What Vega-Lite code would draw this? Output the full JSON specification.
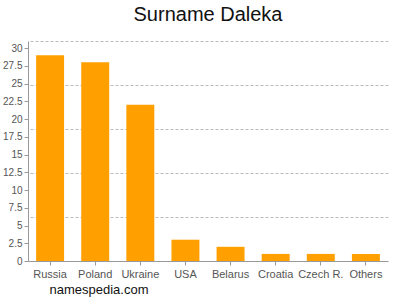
{
  "$schema": "https://vega.github.io/schema/vega-lite/v6.json",
  "width": 360,
  "height": 220,
  "autosize": {"type": "none"},
  "padding": {"left": 28, "top": 41, "right": 12, "bottom": 39},
  "background": "white",
  "title": {
    "text": "Surname Daleka",
    "font": "Liberation Sans",
    "fontSize": 20,
    "fontWeight": "normal",
    "color": "#111111",
    "anchor": "middle",
    "baseline": "alphabetic",
    "offset": 0
  },
  "data": {
    "values": [
      {"country": "Russia", "count": 29},
      {"country": "Poland", "count": 28},
      {"country": "Ukraine", "count": 22},
      {"country": "USA", "count": 3},
      {"country": "Belarus", "count": 2},
      {"country": "Croatia", "count": 1},
      {"country": "Czech R.", "count": 1},
      {"country": "Others", "count": 1}
    ]
  },
  "layer": [
    {
      "mark": {"type": "bar", "color": "#FFA000"},
      "encoding": {
        "x": {
          "field": "country",
          "type": "nominal",
          "sort": null,
          "scale": {"paddingInner": 0.38, "paddingOuter": 0.18},
          "axis": {
            "title": "namespedia.com",
            "titleFont": "Liberation Sans",
            "titleFontSize": 13,
            "titleFontWeight": "normal",
            "titleColor": "#111111",
            "titleAnchor": "start",
            "titleAlign": "left",
            "titleBaseline": "alphabetic",
            "titleX": 21,
            "titleY": 32,
            "labelAngle": 0,
            "labelFont": "Liberation Sans",
            "labelFontSize": 11,
            "labelColor": "#555555",
            "labelPadding": 3,
            "tickSize": 4,
            "tickColor": "#999999",
            "domainColor": "#999999",
            "grid": false
          }
        },
        "y": {
          "field": "count",
          "type": "quantitative",
          "scale": {"domain": [0, 31], "nice": false, "zero": true},
          "axis": {
            "title": null,
            "values": [0, 2.5, 5, 7.5, 10, 12.5, 15, 17.5, 20, 22.5, 25, 27.5, 30],
            "format": ".3~g",
            "labelFont": "Liberation Sans",
            "labelFontSize": 10,
            "labelColor": "#555555",
            "labelPadding": 2,
            "labelOverlap": false,
            "tickSize": 4,
            "tickColor": "#999999",
            "domainColor": "#999999",
            "grid": false
          }
        }
      }
    },
    {
      "mark": {"type": "bar", "opacity": 0},
      "encoding": {
        "x": {"field": "country", "type": "nominal", "sort": null},
        "y": {
          "field": "count",
          "type": "quantitative",
          "axis": {
            "title": null,
            "values": [6.2, 12.4, 18.6, 24.8, 31],
            "labels": false,
            "ticks": false,
            "domain": false,
            "grid": true,
            "gridColor": "#bbbbbb",
            "gridDash": [3, 2],
            "gridWidth": 1
          }
        }
      }
    }
  ],
  "resolve": {"axis": {"y": "independent"}},
  "config": {"view": {"stroke": null}}
}
